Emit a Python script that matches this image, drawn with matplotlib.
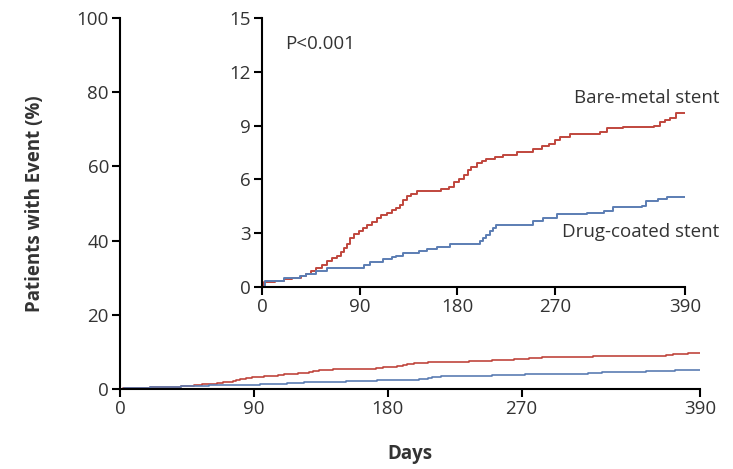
import matplotlib.pyplot as plt

plt.rcParams['font.family'] = ['Open Sans', 'DejaVu Sans']

# cumulative event curves (days, percent)
bare_days = [0, 2, 12, 20, 28, 36, 41, 45, 50, 55, 60, 65, 69, 73, 76, 78, 81, 85,
             89, 93, 97, 101, 106, 110, 115, 120, 124, 127, 130, 134, 137, 143, 165,
             172, 177, 182, 186, 190, 193, 198, 203, 207, 215, 222, 235, 250, 258,
             265, 270, 275, 284, 312, 318, 333, 361, 367, 372, 376, 382, 390]
bare_pct = [0, 0.3, 0.35, 0.43, 0.5, 0.6, 0.75, 0.9, 1.05, 1.25, 1.45, 1.6, 1.75,
            1.95, 2.15, 2.4, 2.75, 2.95, 3.1, 3.3, 3.45, 3.6, 3.85, 4.0, 4.15, 4.3,
            4.4, 4.6, 4.85, 5.05, 5.2, 5.35, 5.45, 5.6, 5.85, 6.05, 6.25, 6.5, 6.7,
            6.9, 7.0, 7.15, 7.25, 7.35, 7.55, 7.7, 7.85, 8.0, 8.2, 8.35, 8.55, 8.65,
            8.85, 8.93, 9.0, 9.2, 9.3, 9.45, 9.68, 9.68]

drug_days = [0, 3, 20, 35, 41, 50, 60, 94, 100, 112, 120, 124, 130, 145, 152, 161,
             173, 201, 204, 207, 210, 213, 216, 250, 259, 272, 300, 315, 324, 350,
             354, 365, 373, 390]
drug_pct = [0, 0.34, 0.5, 0.6, 0.75, 0.9, 1.08, 1.25, 1.4, 1.55, 1.65, 1.75, 1.92,
            2.0, 2.11, 2.25, 2.4, 2.58, 2.75, 2.9, 3.14, 3.3, 3.47, 3.7, 3.83, 4.07,
            4.15, 4.26, 4.45, 4.5, 4.82, 4.9, 5.0, 5.0]

x_ticks = [0, 90, 180, 270, 390]
main_y_ticks = [0, 20, 40, 60, 80, 100]
inset_y_ticks = [0, 3, 6, 9, 12, 15]

red = '#c0463d'
blue = '#5b7db3'
txt = '#333333'
fs = 13.5

fig = plt.figure(figsize=(7.33, 4.69), dpi=100)

def style(ax):
    for s in ['top', 'right']:
        ax.spines[s].set_visible(False)
    for s in ['left', 'bottom']:
        ax.spines[s].set_linewidth(1.5)
    ax.tick_params(direction='out', length=6, width=1.5, labelsize=fs,
                   labelcolor=txt, pad=2)

# main axes
ax = fig.add_axes([0.1637, 0.1706, 0.7913, 0.791])
ax.step(bare_days, bare_pct, where='post', color=red, lw=1.2)
ax.step(drug_days, drug_pct, where='post', color=blue, lw=1.2)
ax.set_xlim(0, 390)
ax.set_ylim(0, 100)
ax.set_xticks(x_ticks)
ax.set_yticks(main_y_ticks)
style(ax)
ax.set_xlabel('Days', fontsize=fs, fontweight='bold', color=txt)
ax.set_ylabel('Patients with Event (%)', fontsize=fs, fontweight='bold', color=txt)
ax.xaxis.set_label_coords(0.5, -0.148)
ax.yaxis.set_label_coords(-0.13, 0.5)

# inset
ins = fig.add_axes([0.3574, 0.388, 0.5771, 0.5736])
ins.step(bare_days, bare_pct, where='post', color=red, lw=1.4)
ins.step(drug_days, drug_pct, where='post', color=blue, lw=1.4)
ins.set_xlim(0, 390)
ins.set_ylim(0, 15)
ins.set_xticks(x_ticks)
ins.set_yticks(inset_y_ticks)
style(ins)

ins.text(0.055, 0.905, 'P<0.001', transform=ins.transAxes, fontsize=fs,
         color=txt, va='center')
ins.text(422, 10.54, 'Bare-metal stent', ha='right', va='center', fontsize=fs,
         color=txt, clip_on=False)
ins.text(422, 3.07, 'Drug-coated stent', ha='right', va='center', fontsize=fs,
         color=txt, clip_on=False)

fig.savefig('out.png', dpi=100)
